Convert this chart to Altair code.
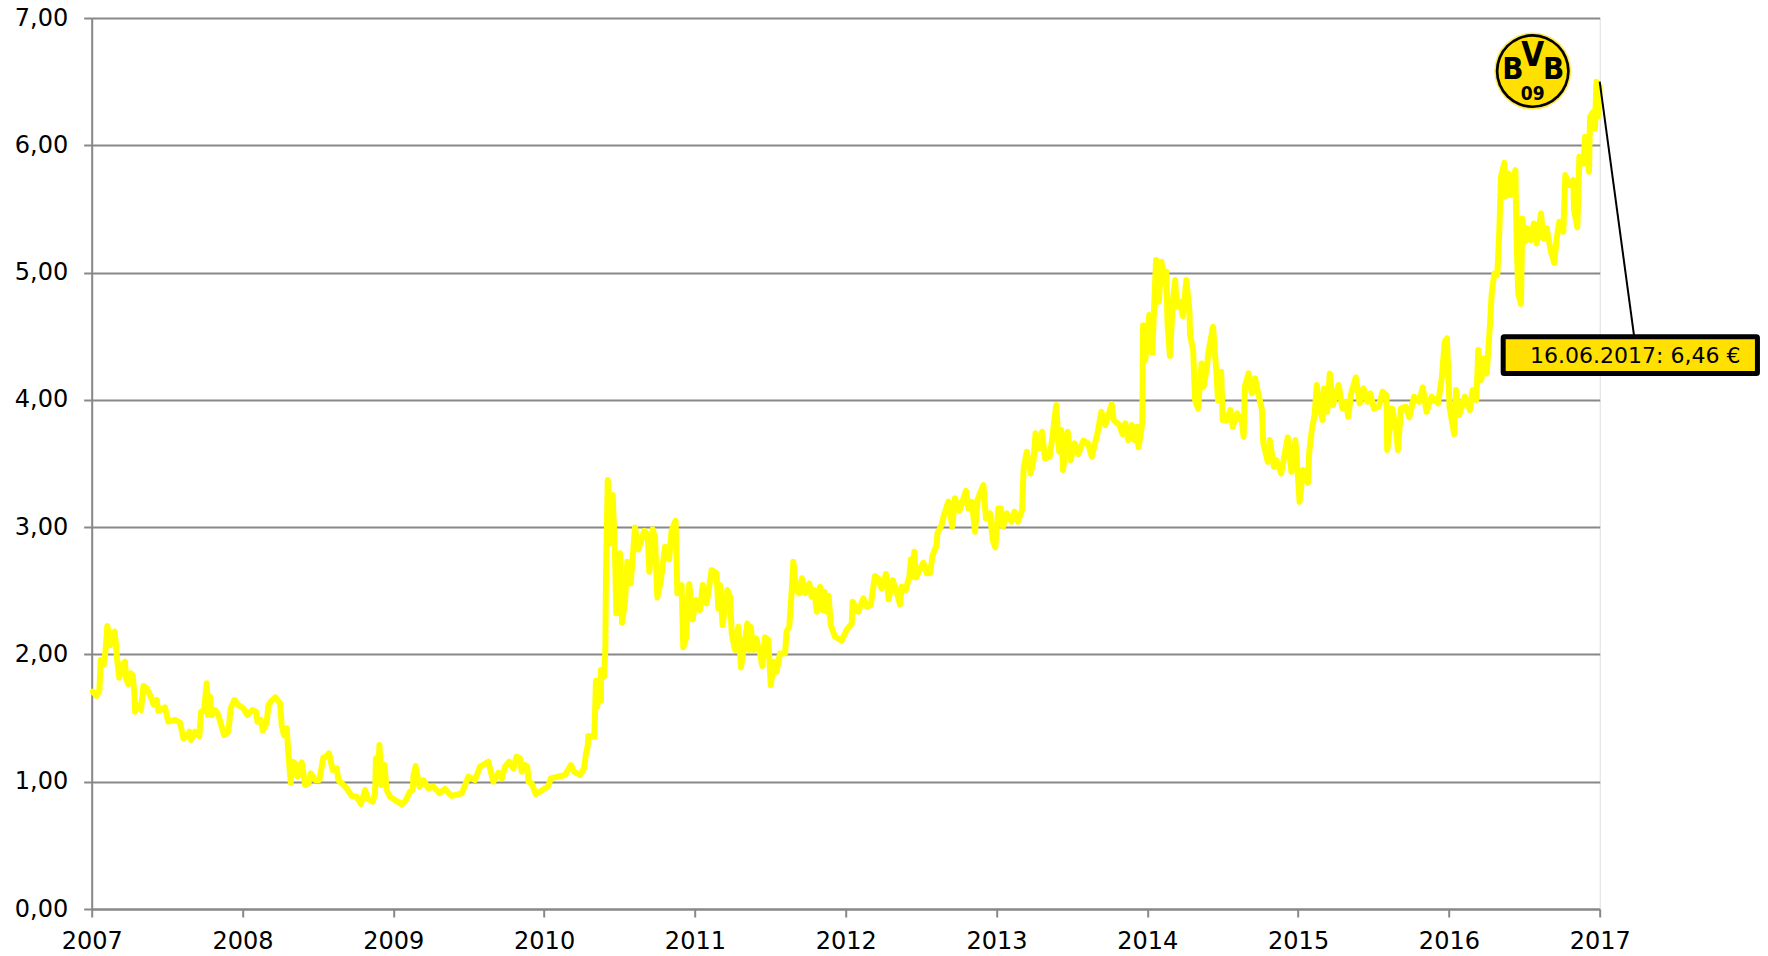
import altair as alt
import pandas as pd

TICK_YEARS = [2007 + i for i in range(11)]
TICK_VALUES = [0, 1, 2, 3, 4, 5, 6, 7]
CALLOUT_TEXT = "16.06.2017: 6,46 €"

YEARS = [
2007.007,2007.033,2007.051,2007.060,2007.080,2007.091,2007.104,2007.124,2007.153,2007.168,
2007.183,2007.199,2007.221,2007.228,2007.243,2007.259,2007.272,2007.283,2007.287,2007.303,
2007.327,2007.343,2007.365,2007.387,2007.409,2007.431,2007.442,2007.486,2007.508,2007.553,
2007.586,2007.608,2007.630,2007.648,2007.659,2007.685,2007.714,2007.725,2007.745,2007.763,
2007.771,2007.785,2007.796,2007.818,2007.840,2007.855,2007.878,2007.906,2007.922,2007.946,
2007.973,2008.006,2008.032,2008.065,2008.090,2008.099,2008.121,2008.134,2008.160,2008.172,
2008.194,2008.218,2008.249,2008.260,2008.275,2008.293,2008.306,2008.320,2008.331,2008.351,
2008.366,2008.393,2008.415,2008.437,2008.454,2008.481,2008.510,2008.536,2008.554,2008.574,
2008.598,2008.625,2008.636,2008.691,2008.724,2008.757,2008.786,2008.813,2008.830,2008.863,
2008.879,2008.885,2008.897,2008.908,2008.923,2008.941,2008.956,2008.978,2009.011,2009.056,
2009.078,2009.111,2009.129,2009.133,2009.148,2009.173,2009.199,2009.233,2009.266,2009.306,
2009.343,2009.387,2009.454,2009.498,2009.542,2009.575,2009.630,2009.664,2009.697,
2009.719,2009.741,2009.769,2009.796,2009.818,2009.840,2009.851,2009.873,2009.889,2009.896,
2009.918,2009.944,2009.984,2010.028,2010.044,2010.094,2010.139,2010.178,2010.198,2010.238,
2010.265,2010.278,2010.289,2010.293,2010.333,2010.344,2010.353,2010.362,2010.377,2010.377,
2010.397,2010.406,2010.411,2010.422,2010.437,2010.455,2010.470,2010.479,2010.503,2010.517,
2010.537,2010.552,2010.574,2010.603,2010.625,2010.665,2010.687,2010.698,2010.720,2010.735,
2010.751,2010.773,2010.802,2010.829,2010.846,2010.872,2010.884,2010.912,2010.923,2010.941,
2010.963,2010.985,2011.005,2011.034,2011.052,2011.078,2011.111,2011.144,2011.155,2011.166,
2011.184,2011.215,2011.233,2011.244,2011.266,2011.288,2011.306,2011.348,2011.361,2011.370,
2011.388,2011.405,2011.432,2011.447,2011.465,2011.487,2011.503,2011.525,2011.542,2011.564,
2011.598,2011.608,2011.626,2011.642,2011.653,2011.670,2011.692,2011.710,2011.730,2011.759,
2011.774,2011.792,2011.808,2011.830,2011.847,2011.858,2011.874,2011.887,2011.901,2011.929,
2011.973,2012.006,2012.040,2012.046,2012.084,2012.117,2012.139,2012.166,2012.194,2012.216,
2012.238,2012.267,2012.285,2012.312,2012.338,2012.360,2012.371,2012.398,2012.422,2012.433,
2012.444,2012.455,2012.466,2012.515,2012.537,2012.559,2012.577,2012.603,2012.608,2012.636,
2012.652,2012.681,2012.707,2012.725,2012.754,2012.798,2012.813,2012.836,2012.858,2012.875,
2012.913,2012.930,2012.957,2012.975,2012.992,2013.012,
2013.028,2013.043,2013.069,2013.099,2013.119,2013.142,2013.170,2013.180,2013.201,2013.226,
2013.246,2013.259,2013.282,2013.302,2013.322,2013.353,2013.371,2013.396,2013.416,2013.429,
2013.442,2013.472,2013.492,2013.518,2013.543,2013.576,2013.607,2013.632,2013.670,2013.695,
2013.721,2013.764,2013.777,2013.815,2013.835,2013.855,2013.873,2013.898,2013.916,2013.931,
2013.942,2013.967,2013.972,2013.987,2014.013,2014.033,2014.058,2014.076,2014.094,2014.114,
2014.127,2014.134,2014.150,2014.170,2014.185,2014.195,2014.216,2014.236,2014.259,2014.279,
2014.284,2014.304,2014.317,2014.337,2014.360,2014.373,2014.393,2014.406,2014.436,2014.457,
2014.469,2014.490,2014.500,2014.525,2014.551,2014.566,2014.596,2014.627,2014.639,2014.647,
2014.672,2014.693,2014.715,2014.736,2014.761,2014.769,2014.799,2014.812,2014.840,2014.855,
2014.888,2014.906,2014.931,2014.956,2014.982,2015.002,2015.010,2015.033,2015.066,2015.073,
2015.091,2015.109,2015.124,2015.142,2015.162,2015.172,2015.193,2015.210,2015.231,2015.269,
2015.294,2015.319,2015.332,2015.352,2015.383,2015.408,2015.434,2015.459,2015.479,2015.502,
2015.535,2015.560,2015.586,2015.591,2015.624,2015.649,2015.662,2015.682,2015.713,2015.738,
2015.769,2015.802,2015.827,2015.852,2015.885,2015.928,2015.954,2015.972,2015.987,2016.004,
2016.035,2016.048,2016.068,2016.106,2016.139,2016.157,2016.182,2016.195,2016.215,2016.233,
2016.251,2016.273,2016.284,2016.301,2016.321,2016.334,2016.345,2016.368,2016.376,2016.394,
2016.410,2016.441,2016.449,2016.460,2016.478,2016.487,2016.505,2016.520,2016.542,2016.564,
2016.582,2016.611,2016.626,2016.648,2016.677,2016.699,2016.715,2016.732,2016.759,2016.772,
2016.799,2016.825,2016.830,2016.852,2016.865,2016.892,2016.903,2016.929,2016.936,2016.958,
2016.969,2016.978,2016.988,2017.000,
]

PRICES = [
1.707,1.673,1.720,1.956,1.917,2.021,2.223,2.074,2.179,1.969,
1.817,1.909,1.943,1.812,1.767,1.851,1.838,1.694,1.550,1.602,
1.563,1.752,1.733,1.681,1.610,1.642,1.555,1.584,1.472,1.485,
1.464,1.341,1.354,1.393,1.328,1.393,1.359,1.550,1.558,1.773,
1.524,1.668,1.524,1.563,1.524,1.459,1.367,1.393,1.576,1.642,
1.602,1.576,1.524,1.563,1.550,1.472,1.485,1.401,1.459,1.602,
1.637,1.663,1.616,1.445,1.367,1.419,1.197,0.992,1.157,1.144,
1.040,1.152,0.974,0.987,1.066,1.013,1.013,1.189,1.197,1.223,
1.092,1.105,1.013,0.948,0.888,0.882,0.825,0.935,0.869,0.843,
0.909,1.184,0.987,1.288,0.974,1.131,0.935,0.882,0.856,0.822,
0.843,0.922,0.935,1.040,1.123,0.961,1.013,0.948,0.961,0.909,
0.943,0.888,0.909,1.040,1.013,1.118,1.157,1.000,1.071,
1.026,1.118,1.157,1.105,1.197,1.184,1.079,1.131,1.118,1.000,
0.987,0.903,0.930,0.966,1.026,1.040,1.053,1.131,1.079,1.053,
1.105,1.223,1.275,1.359,1.354,1.794,1.589,1.794,1.637,1.877,
1.825,2.035,2.663,3.370,2.872,3.252,2.794,2.323,2.794,2.249,
2.427,2.729,2.558,2.998,2.825,2.972,2.938,2.650,2.983,2.925,
2.448,2.571,2.846,2.747,2.977,3.051,2.480,2.545,2.056,2.126,
2.553,2.275,2.427,2.349,2.545,2.401,2.663,2.637,2.362,2.545,
2.231,2.506,2.454,2.166,2.035,2.218,1.898,2.244,2.035,2.218,
2.035,2.126,2.008,1.909,2.134,2.113,1.760,1.943,1.864,2.008,
2.008,2.179,2.218,2.506,2.729,2.506,2.480,2.598,2.480,2.558,
2.454,2.506,2.336,2.532,2.349,2.493,2.336,2.461,2.231,2.139,
2.108,2.192,2.244,2.414,2.336,2.440,2.375,2.388,2.616,2.597,
2.519,2.632,2.433,2.584,2.493,2.393,2.532,2.506,2.611,2.747,
2.611,2.807,2.605,2.721,2.637,2.637,2.781,2.859,2.951,3.017,
3.095,3.200,3.003,3.226,3.129,3.286,3.147,3.200,2.964,3.218,
3.331,3.069,3.108,2.899,2.841,3.147,
3.147,3.003,3.108,3.043,3.121,3.043,3.134,3.462,3.593,3.422,
3.527,3.737,3.619,3.750,3.540,3.553,3.710,3.959,3.593,3.763,
3.449,3.750,3.527,3.658,3.574,3.679,3.658,3.553,3.737,3.907,
3.802,3.967,3.841,3.802,3.731,3.815,3.684,3.802,3.684,3.789,
3.627,3.815,4.587,4.313,4.666,4.370,5.098,4.771,5.085,4.915,
5.006,4.601,4.344,4.784,4.941,4.732,4.771,4.658,4.941,4.705,
4.509,4.391,3.998,3.933,4.286,4.103,4.234,4.378,4.574,4.234,
3.998,4.221,3.841,3.836,3.920,3.789,3.894,3.828,3.710,4.103,
4.208,4.051,4.169,4.051,3.920,3.658,3.514,3.684,3.475,3.527,
3.422,3.540,3.705,3.435,3.684,3.344,3.200,3.449,3.349,3.579,
3.763,3.881,4.116,3.946,3.841,4.090,3.907,4.208,3.959,4.116,
3.933,3.985,3.867,4.051,4.176,3.972,4.090,3.985,4.051,3.933,
3.946,4.064,4.038,3.606,3.933,3.763,3.606,3.933,3.946,3.862,
4.025,3.985,4.098,3.907,4.025,3.972,4.182,4.457,4.483,3.946,
3.731,4.077,3.881,4.025,3.920,4.077,3.998,4.391,4.156,4.326,
4.208,4.601,4.836,4.993,4.980,5.308,5.753,5.863,5.596,5.779,
5.609,5.805,5.255,4.836,4.753,5.425,5.242,5.347,5.255,5.386,
5.229,5.465,5.268,5.347,5.164,5.077,5.268,5.399,5.321,5.766,
5.687,5.727,5.491,5.355,5.910,5.858,6.067,5.792,6.224,6.264,
6.133,6.499,6.224,6.460,
]

LOGO_CENTER = (2016.556, 6.583)
LOGO_LETTERS = ["B", "V", "B", "09"]
LOGO_X = [2016.425, 2016.556, 2016.694, 2016.556]
LOGO_Y = [6.590, 6.700, 6.590, 6.400]
LOGO_FONT = [31, 33, 31, 19]

LEADER = {"x": [2017.000], "x2": [2017.227], "y": [6.500], "y2": [4.510]}
BOX = {"x": [2016.360], "x2": [2018.046], "y": [4.496], "y2": [4.207]}
LABEL = {"x": [2017.236], "y": [4.342], "t": [CALLOUT_TEXT]}

n = min(len(YEARS), len(PRICES))
df = pd.DataFrame({"i": range(n), "year": YEARS[:n], "price": PRICES[:n]})

GRAY = "#888888"
FONT = "DejaVu Sans"
GOLD = "#FFE000"

xs = alt.Scale(domain=[2007, 2017], nice=False, zero=False)
ys = alt.Scale(domain=[0, 7], nice=False, zero=False)
x_axis = alt.Axis(
    values=TICK_YEARS, format="d", grid=False, title=None, domainColor=GRAY, domainWidth=2,
    tickColor=GRAY, tickWidth=2, tickSize=8, labelFont=FONT, labelFontSize=24, labelColor="#000000",
    labelPadding=12, labelOverlap=False, labelFlush=False)
y_axis = alt.Axis(
    values=TICK_VALUES, grid=True, gridColor=GRAY, gridWidth=2, gridOpacity=1, title=None,
    labelExpr="replace(format(datum.value,'.2f'),'.',',')",
    domainColor=GRAY, domainWidth=2, tickColor=GRAY, tickWidth=2, tickSize=8,
    labelFont=FONT, labelFontSize=24, labelColor="#000000", labelPadding=16, labelOverlap=False,
    labelFlush=False)

line = alt.Chart(df).mark_line(color="#FFFF00", strokeWidth=6, strokeJoin="round", strokeCap="round", clip=False).encode(
    x=alt.X("year:Q", scale=xs, axis=x_axis), y=alt.Y("price:Q", scale=ys, axis=y_axis), order="i:Q")

nox = alt.X("x:Q", scale=xs, axis=x_axis)
noy = alt.Y("y:Q", scale=ys, axis=y_axis)

leader = alt.Chart(pd.DataFrame(LEADER)).mark_rule(color="#000000", strokeWidth=2).encode(
    x=nox, y=noy, x2="x2:Q", y2="y2:Q")
box = alt.Chart(pd.DataFrame(BOX)).mark_rect(fill=GOLD, stroke="#000000", strokeWidth=5, cornerRadius=1).encode(
    x=nox, y=noy, x2="x2:Q", y2="y2:Q")
label = alt.Chart(pd.DataFrame(LABEL)).mark_text(font=FONT, fontSize=22, color="#000000", align="center", baseline="middle").encode(
    x=nox, y=noy, text="t:N")

center = pd.DataFrame({"x": [LOGO_CENTER[0]], "y": [LOGO_CENTER[1]]})
def disc(radius, fill):
    return alt.Chart(center).mark_circle(color=fill, opacity=1, size=4 * radius ** 2).encode(x=nox, y=noy)

logo_df = pd.DataFrame({"x": LOGO_X, "y": LOGO_Y, "t": LOGO_LETTERS, "f": LOGO_FONT})
logo_text = alt.Chart(logo_df).mark_text(font="DejaVu Sans Condensed", fontWeight="bold", color="#000000",
                                         align="center", baseline="middle").encode(
    x=nox, y=noy, text="t:N", size=alt.Size("f:Q", scale=None, legend=None))

chart = alt.layer(line, disc(38.5, "#FFE94D"), disc(37, "#000000"), disc(34.3, GOLD), logo_text, leader, box, label).properties(
    width=1508, height=891,
    padding={"left": 83.7, "top": 10, "right": 160.3, "bottom": 45},
    autosize=alt.AutoSizeParams(type="none"),
).configure_view(stroke=None).configure(background="white")

chart.save("out.html", embed_options={"renderer": "svg", "actions": False})
